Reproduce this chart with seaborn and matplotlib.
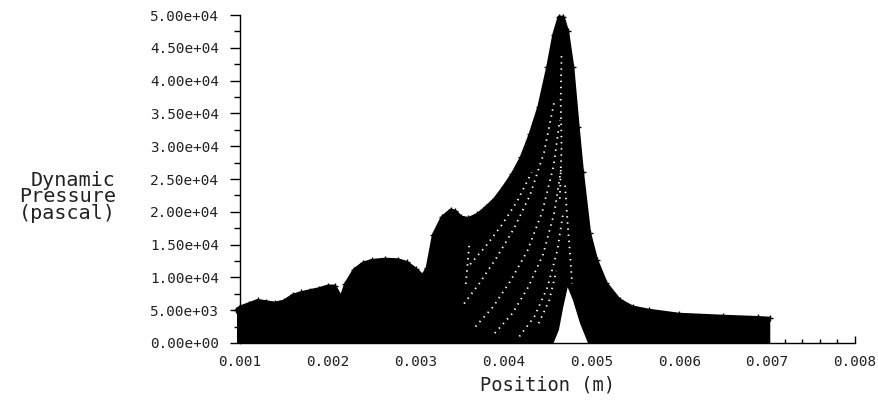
import numpy as np
import matplotlib
matplotlib.use("Agg")
import matplotlib.pyplot as plt
from matplotlib.ticker import MultipleLocator, FuncFormatter
import seaborn as sns

# upper edge of the point cloud (position in m, dynamic pressure in Pa)
env_x = [0.00096, 0.00100, 0.00110, 0.00120, 0.00130, 0.00140, 0.00150, 0.00160,
         0.00170, 0.00180, 0.00190, 0.00200, 0.00208, 0.00215, 0.00220, 0.00230,
         0.00240, 0.00250, 0.00265, 0.00280, 0.00290, 0.00300, 0.00308, 0.00313,
         0.00320, 0.00330, 0.00340, 0.00345, 0.00352, 0.00360, 0.00370, 0.00380,
         0.00390, 0.00400, 0.00410, 0.00420, 0.00430, 0.00440, 0.00450, 0.00457,
         0.00463, 0.00468, 0.00473, 0.00479, 0.00485, 0.00490, 0.00498, 0.00506,
         0.00517, 0.00532, 0.00547, 0.00566, 0.00600, 0.00650, 0.00690, 0.00703]
env_y = [5000, 5500, 6000, 6500, 6300, 6100, 6400, 7300,
         7700, 8000, 8300, 8700, 8700, 7000, 9000, 11200,
         12200, 12600, 12800, 12700, 12300, 11300, 10300, 11500,
         16500, 19200, 20300, 20100, 19200, 19000, 19600, 20700,
         22000, 23800, 25800, 28300, 31800, 36000, 42000, 47000,
         49700, 49700, 47500, 42000, 33000, 26000, 16800, 12700,
         9100, 6600, 5500, 5000, 4400, 4100, 3900, 3800]

# white gap under the lowest profile near the peak
notch_x = [0.00457, 0.00463, 0.00468, 0.00473, 0.00479, 0.00487, 0.00496]
notch_y = [0, 2000, 5500, 8500, 6500, 3000, 0]

# visible gaps between neighbouring profiles
gap_1_x = [0.00355, 0.00372, 0.00392, 0.00412, 0.00430, 0.00446, 0.00458]
gap_1_y = [6000, 9000, 13000, 17500, 22500, 29000, 37000]
gap_2_x = [0.00368, 0.00388, 0.00408, 0.00427, 0.00444, 0.00457, 0.00464]
gap_2_y = [2500, 5500, 9500, 14000, 20000, 27000, 34000]
gap_3_x = [0.00390, 0.00410, 0.00428, 0.00445, 0.00458, 0.00466]
gap_3_y = [1500, 4500, 8500, 13500, 20000, 27000]
gap_4_x = [0.00418, 0.00435, 0.00450, 0.00461, 0.00468]
gap_4_y = [1000, 4000, 8500, 14000, 20000]
gap_5_x = [0.00464, 0.00466, 0.00465, 0.00466]
gap_5_y = [22000, 30000, 37000, 44000]
gap_6_x = [0.00470, 0.00473, 0.00476, 0.00478]
gap_6_y = [24000, 18000, 13000, 9000]
gap_7_x = [0.00362, 0.00380, 0.00398, 0.00415, 0.00432]
gap_7_y = [12000, 14800, 18000, 21500, 26000]
gap_8_x = [0.00357, 0.00359, 0.00361]
gap_8_y = [9000, 12000, 15000]
gap_9_x = [0.00440, 0.00452, 0.00460]
gap_9_y = [3000, 6500, 11000]

gaps = [(gap_1_x, gap_1_y), (gap_2_x, gap_2_y), (gap_3_x, gap_3_y),
        (gap_4_x, gap_4_y), (gap_5_x, gap_5_y), (gap_6_x, gap_6_y),
        (gap_7_x, gap_7_y), (gap_8_x, gap_8_y), (gap_9_x, gap_9_y)]

sns.set_theme(style="white")
plt.rcParams['font.family'] = ['DejaVu Sans Mono']

fig = plt.figure(figsize=(8.79, 4.0), dpi=100)
ax = fig.add_axes([240 / 879, 57 / 400, 615 / 879, 328 / 400])

# the cloud
ax.fill_between(env_x, 0, env_y, color="black", lw=0, clip_on=False, zorder=2)
sns.lineplot(x=env_x, y=env_y, ax=ax, color="black", lw=2.0, marker="+",
             markersize=4, markeredgecolor="black", mew=1.0, sort=False,
             estimator=None, clip_on=False, zorder=3)
ax.fill(notch_x, notch_y, color="white", lw=0, zorder=4)
for gx, gy in gaps:
    ax.plot(gx, gy, color="white", lw=1.3, dashes=(0.8, 2.6), zorder=4)

ax.set_xlim(0.001, 0.008)
ax.set_ylim(0, 50000)

for s in ["top", "right"]:
    ax.spines[s].set_visible(False)
for s in ["left", "bottom"]:
    ax.spines[s].set_color("black")
    ax.spines[s].set_linewidth(1.0)
    ax.spines[s].set_zorder(5)

ax.yaxis.set_major_locator(MultipleLocator(5000))
ax.yaxis.set_minor_locator(MultipleLocator(2500))
ax.yaxis.set_major_formatter(FuncFormatter(lambda v, p: f"{v:.2e}"))
ax.xaxis.set_major_locator(MultipleLocator(0.001))
ax.xaxis.set_minor_locator(MultipleLocator(0.0002))
ax.xaxis.set_major_formatter(FuncFormatter(lambda v, p: f"{v:.3f}"))

ax.tick_params(axis="y", which="major", direction="out", length=7, width=1,
               color="black", left=True, pad=8)
ax.tick_params(axis="y", which="minor", direction="out", length=4, width=1,
               color="black", left=True)
ax.tick_params(axis="x", which="major", direction="in", length=5, width=1,
               color="black", bottom=True, pad=9)
ax.tick_params(axis="x", which="minor", direction="in", length=3, width=1,
               color="black", bottom=True)
for lab in ax.get_xticklabels() + ax.get_yticklabels():
    lab.set_fontsize(10.4)
    lab.set_color("#222222")

ax.set_xlabel("Position (m)", fontsize=13.5, color="#222222", labelpad=4)
fig.text(116 / 879, 1 - 197 / 400, "Dynamic\nPressure\n(pascal)", ha="right",
         va="center", multialignment="right", fontsize=14.5, color="#222222",
         linespacing=0.82)

fig.savefig("out.png", dpi=100, facecolor="white")
